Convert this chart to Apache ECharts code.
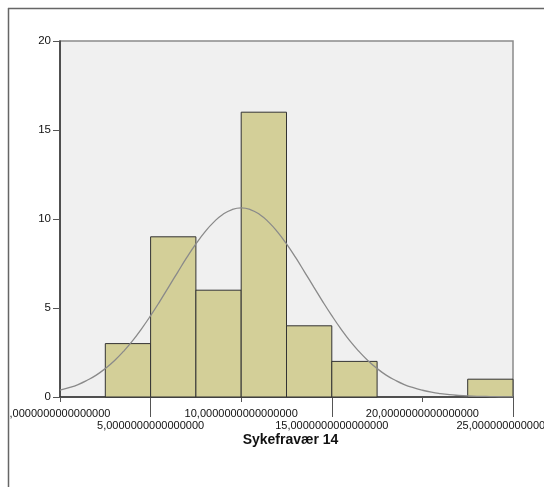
<!DOCTYPE html>
<html><head><meta charset="utf-8">
<script src="https://cdn.jsdelivr.net/npm/echarts@6/dist/echarts.min.js"></script>
<style>html,body{margin:0;padding:0;background:#fff}#c{width:544px;height:487px}</style>
</head><body><div id="c"></div>
<script>
// Histogram bins (bin width 2.5)
var binStarts = [0, 2.5, 5, 7.5, 10, 12.5, 15, 17.5, 20, 22.5];
var binEnds   = [2.5, 5, 7.5, 10, 12.5, 15, 17.5, 20, 22.5, 25];
var counts    = [0, 3, 9, 6, 16, 4, 2, 0, 0, 1];
// Fitted normal curve
var curveX = [0,0.5,1,1.5,2,2.5,3,3.5,4,4.5,5,5.5,6,6.5,7,7.5,8,8.5,9,9.5,10,10.5,11,11.5,12,12.5,13,13.5,14,14.5,15,15.5,16,16.5,17,17.5,18,18.5,19,19.5,20,20.5,21,21.5,22,22.5,23,23.5,24,24.5,25];
var curveY = [0.38,0.52,0.70,0.94,1.23,1.60,2.04,2.56,3.15,3.83,4.57,5.36,6.19,7.02,7.84,8.60,9.28,9.84,10.27,10.53,10.62,10.53,10.27,9.84,9.28,8.60,7.84,7.02,6.19,5.36,4.57,3.83,3.15,2.56,2.04,1.60,1.23,0.94,0.70,0.52,0.38,0.27,0.19,0.13,0.09,0.06,0.04,0.03,0.02,0.01,0.01];
var xTickRow1 = [0, 10, 20];
var xTickRow2 = [5, 15, 25];
var xLabels = {0: ',0000000000000000', 5: '5,0000000000000000', 10: '10,0000000000000000', 15: '15,0000000000000000', 20: '20,0000000000000000', 25: '25,0000000000000000'};
var yTicks = [0, 5, 10, 15, 20];
var xTitle = 'Sykefravær 14';

var binData = binStarts.map(function (s, i) { return [s, binEnds[i], counts[i]]; });
var curveData = curveX.map(function (x, i) { return [x, curveY[i]]; });

var FONT = 'Liberation Sans, Arial, sans-serif';
var chart = echarts.init(document.getElementById('c'), null, {renderer: 'canvas'});
chart.setOption({
  animation: false,
  backgroundColor: '#ffffff',
  grid: {left: 60, top: 41, right: 31, bottom: 90, show: true, backgroundColor: '#F0F0F0', borderColor: '#8a8a8a', borderWidth: 1.5, containLabel: false, outerBoundsMode: 'none'},
  xAxis: [{
    type: 'value', min: 0, max: 25, interval: 5, position: 'bottom',
    axisLine: {show: true, onZero: false, lineStyle: {color: '#333', width: 1.5}},
    axisTick: {show: true, customValues: xTickRow1, length: 5, lineStyle: {color: '#555'}},
    axisLabel: {customValues: xTickRow1, margin: 11, fontSize: 11, fontFamily: FONT, color: '#111', formatter: function (v) { return xLabels[v]; }},
    splitLine: {show: false},
    name: xTitle, nameLocation: 'middle', nameGap: 36,
    nameTextStyle: {fontSize: 14, fontWeight: 'bold', fontFamily: FONT, color: '#111', padding: [0, 0, 0, 8]}
  }, {
    type: 'value', min: 0, max: 25, interval: 5, position: 'bottom',
    axisLine: {show: false},
    axisTick: {show: true, customValues: xTickRow2, length: 20, lineStyle: {color: '#555'}},
    axisLabel: {customValues: xTickRow2, margin: 23, fontSize: 11, fontFamily: FONT, color: '#111', formatter: function (v) { return xLabels[v]; }},
    splitLine: {show: false}
  }],
  yAxis: {
    type: 'value', min: 0, max: 20, interval: 5,
    axisLine: {show: true, lineStyle: {color: '#333', width: 1.5}},
    axisTick: {show: true, length: 7, lineStyle: {color: '#555'}},
    axisLabel: {margin: 9, fontSize: 11.5, fontFamily: FONT, color: '#111'},
    splitLine: {show: false}
  },
  graphic: [
    {type: 'line', shape: {x1: 8.5, y1: 8, x2: 8.5, y2: 487}, style: {stroke: '#666', lineWidth: 1.5}, silent: true},
    {type: 'line', shape: {x1: 8, y1: 8.5, x2: 544, y2: 8.5}, style: {stroke: '#666', lineWidth: 1.5}, silent: true}
  ],
  series: [{
    type: 'custom', xAxisIndex: 0, yAxisIndex: 0, z: 2,
    data: binData,
    renderItem: function (params, api) {
      var c = api.value(2);
      if (!c) return null;
      var p0 = api.coord([api.value(0), c]);
      var p1 = api.coord([api.value(1), 0]);
      return {type: 'rect', shape: {x: p0[0], y: p0[1], width: p1[0] - p0[0], height: p1[1] - p0[1]},
        style: {fill: '#D3CF98', stroke: '#333', lineWidth: 1}};
    }
  }, {
    type: 'line', xAxisIndex: 0, yAxisIndex: 0, z: 3,
    data: curveData, showSymbol: false, smooth: true,
    lineStyle: {color: '#8a8a8a', width: 1.3}
  }]
});
</script></body></html>
